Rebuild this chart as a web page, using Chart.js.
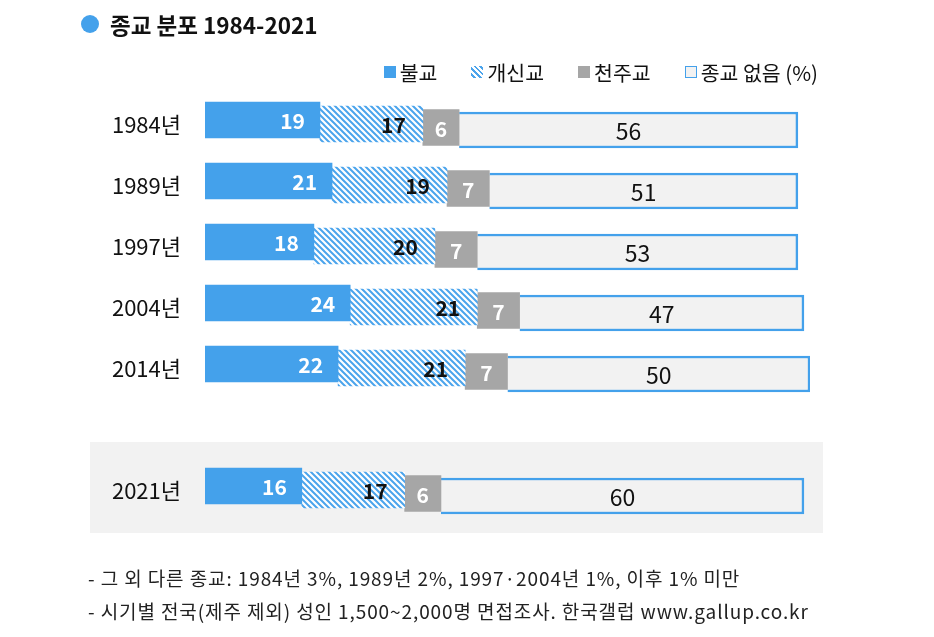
<!DOCTYPE html>
<html>
<head>
<meta charset="utf-8">
<script src="https://cdn.jsdelivr.net/npm/chart.js@4/dist/chart.umd.min.js"></script>
<style>
  body { margin: 0; background: #fff; font-family: 'Noto Sans CJK KR', 'Noto Sans', sans-serif; color: #111; }
  #wrap { position: relative; width: 934px; height: 637px; overflow: hidden; }
  canvas { position: absolute; left: 0; top: 0; }
  #title { position: absolute; left: 81px; top: 8px; font-size: 22.5px; font-weight: bold; color: #111; display: flex; align-items: center; }
  #title .dot { width: 18px; height: 18px; border-radius: 50%; background: #44a1eb; margin-right: 11px; }
  #legend { position: absolute; right: 116px; top: 57px; display: flex; font-size: 20.5px; color: #111; }
  #legend .item { display: flex; align-items: center; margin-left: 34px; }
  #legend .box { width: 12px; height: 12px; margin-right: 4px; box-sizing: border-box; }
  .note { position: absolute; left: 88px; font-size: 19px; letter-spacing: 0.9px; color: #222; }
</style>
</head>
<body>
<div id="wrap">
  <canvas id="myChart" width="934" height="637"></canvas>
  <div id="title"><span class="dot"></span>종교 분포 1984-2021</div>
  <div id="legend"></div>
  <div class="note" style="top:564px">- 그 외 다른 종교: 1984년 3%, 1989년 2%, 1997·2004년 1%, 이후 1% 미만</div>
  <div class="note" style="top:597px">- 시기별 전국(제주 제외) 성인 1,500~2,000명 면접조사. 한국갤럽 www.gallup.co.kr</div>
</div>
<script>
// years (blank slot = gap before 2021)
const years = ['1984년', '1989년', '1997년', '2004년', '2014년', '', '2021년'];
const seriesNames = ['불교', '개신교', '천주교', '종교 없음 (%)'];

const buddhism = [19, 21, 18, 24, 22, null, 16];
const protestant = [17, 19, 20, 21, 21, null, 17];
const catholic = [6, 7, 7, 7, 7, null, 6];
const noReligion = [56, 51, 53, 47, 50, null, 60];

const BLUE = '#44a1eb';
const FONT = "'Noto Sans CJK KR', 'Noto Sans', sans-serif";

// diagonal hatch for 개신교
const makeHatch = () => {
  const c = document.createElement('canvas');
  c.width = 6; c.height = 6;
  const g = c.getContext('2d');
  g.fillStyle = '#fff';
  g.fillRect(0, 0, 6, 6);
  g.strokeStyle = '#4ba4ec';
  g.lineWidth = 2;
  g.beginPath();
  g.moveTo(-1, -1); g.lineTo(7, 7);
  g.moveTo(-4, 2); g.lineTo(4, 10);
  g.moveTo(2, -4); g.lineTo(10, 4);
  g.stroke();
  return g.createPattern(c, 'repeat');
};

// legend (html)
const legendSwatches = [
  'background:' + BLUE,
  'background:repeating-linear-gradient(45deg,#fff 0 2px,#4ba4ec 2px 4px)',
  'background:#a6a6a6',
  'background:#f2f2f2;border:1.5px solid ' + BLUE
];
document.getElementById('legend').innerHTML = seriesNames.map((n, i) =>
  `<span class="item"><span class="box" style="${legendSwatches[i]}"></span>${n}</span>`).join('');

// each series sits a little lower than the one before it
const shifts = [-5, -1, 2.5, 5];
const labelStyle = [
  { color: '#fff', weight: 'bold', size: 21, align: 'right', pad: 15 },
  { color: '#111', weight: 'bold', size: 21, align: 'right', pad: 17 },
  { color: '#fff', weight: 'bold', size: 21, align: 'center' },
  { color: '#111', weight: 'normal', size: 23, align: 'center' }
];

const stepPlugin = {
  id: 'step',
  beforeDraw(chart) {
    // grey band behind 2021
    const y = chart.scales.y.getPixelForValue(6);
    const ctx = chart.ctx;
    ctx.save();
    ctx.fillStyle = '#f2f2f2';
    ctx.fillRect(90, y - 49, 733, 91);
    ctx.restore();
  },
  beforeDatasetDraw(chart, args) {
    chart.ctx.save();
    chart.ctx.translate(0, shifts[args.index]);
  },
  afterDatasetDraw(chart, args) {
    const ctx = chart.ctx;
    const ds = chart.data.datasets[args.index];
    const st = labelStyle[args.index];
    ctx.font = `${st.weight} ${st.size}px ${FONT}`;
    ctx.fillStyle = st.color;
    ctx.textAlign = st.align;
    ctx.textBaseline = 'middle';
    args.meta.data.forEach((bar, i) => {
      const v = ds.data[i];
      if (v == null) return;
      const x = st.align === 'right' ? bar.x - st.pad : (bar.x + bar.base) / 2;
      ctx.fillText(v, x, bar.y + 1.5);
    });
    ctx.restore();
  }
};

new Chart(document.getElementById('myChart'), {
  type: 'bar',
  data: {
    labels: years,
    datasets: [
      { label: seriesNames[0], data: buddhism, backgroundColor: BLUE, borderWidth: 0 },
      { label: seriesNames[1], data: protestant, backgroundColor: makeHatch(), borderWidth: 0 },
      { label: seriesNames[2], data: catholic, backgroundColor: '#a6a6a6', borderWidth: 0 },
      { label: seriesNames[3], data: noReligion, backgroundColor: '#f2f2f2', borderColor: BLUE, borderWidth: 2.5 }
    ]
  },
  options: {
    indexAxis: 'y',
    responsive: false,
    animation: false,
    barThickness: 36,
    layout: { padding: { top: 94.5, bottom: 115.5, left: 0, right: 124 } },
    plugins: { legend: { display: false }, tooltip: { enabled: false } },
    scales: {
      x: { stacked: true, min: 0, max: 100, display: false },
      y: {
        stacked: true,
        grid: { display: false, drawTicks: false },
        border: { display: false },
        ticks: { color: '#111', padding: 24, font: { family: FONT, size: 22 } },
        afterFit: scale => { scale.width = 205; }
      }
    }
  },
  plugins: [stepPlugin]
});
</script>
</body>
</html>
